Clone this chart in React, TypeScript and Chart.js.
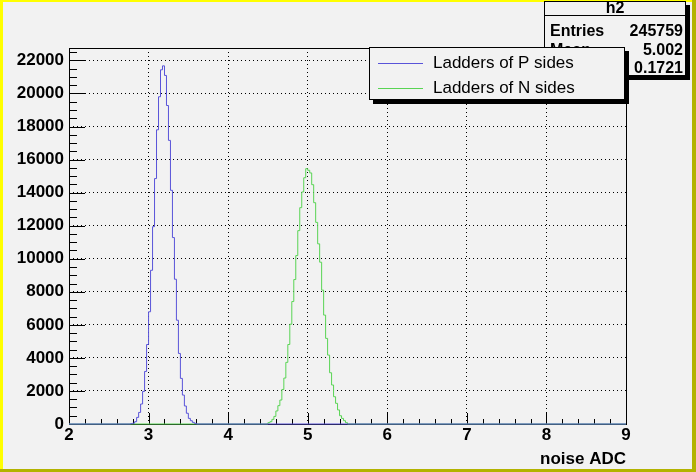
import React, { useEffect, useRef } from "react";
import { Chart, registerables } from "chart.js";
Chart.register(...registerables);

// ---- data ----
const X_MIN = 2;
const X_MAX = 9;
const Y_MAX = 22750;
const BIN_WIDTH = 0.025;

// Ladders of P sides: first bin low edge and bin contents
const pStart = 2.775;
const pSides = [
  20, 50, 140, 400, 700, 1210, 1970, 3180, 4810, 6790, 9300, 11940, 14850,
  17800, 19800, 21430, 21670, 21090, 19270, 17160, 14140, 11280, 8760, 6280,
  4270, 2760, 1750, 1090, 650, 340, 200, 100, 40,
];

// Ladders of N sides
const nStart = 4.5;
const nSides = [
  80, 140, 280, 460, 790, 1110, 1450, 2090, 2780, 3730, 4810, 6040, 7410,
  8740, 10190, 11700, 13090, 14040, 14900, 15450, 15350, 15190, 14480, 13390,
  12200, 10900, 9790, 8100, 6590, 5180, 4170, 3100, 2360, 1650, 1250, 850,
  500, 340, 200, 80,
];

const seriesLabels = ["Ladders of P sides", "Ladders of N sides"];
const xTicks = [2, 3, 4, 5, 6, 7, 8, 9];
const xTickLabels = ["2", "3", "4", "5", "6", "7", "8", "9"];
const yTicks = [0, 2000, 4000, 6000, 8000, 10000, 12000, 14000, 16000, 18000, 20000, 22000];
const yTickLabels = ["0", "2000", "4000", "6000", "8000", "10000", "12000", "14000", "16000", "18000", "20000", "22000"];
const xMinorStep = 0.2;
const yMinorStep = 500;
const xTitle = "noise ADC";
const statsTitle = "h2";
const statsRows = [
  ["Entries", "245759"],
  ["Mean", "5.002"],
  ["RMS", "0.1721"],
];

const BLUE = "#5954d9";
const GREEN = "#59d454";
const BG = "#f2f2f2";
const FONT = "'Liberation Sans', Arial, Helvetica, sans-serif";

function histPoints(start: number, values: number[]) {
  const pts: { x: number; y: number }[] = [{ x: X_MIN, y: 0 }];
  values.forEach((v, i) => pts.push({ x: start + i * BIN_WIDTH, y: v }));
  pts.push({ x: start + values.length * BIN_WIDTH, y: 0 });
  pts.push({ x: X_MAX, y: 0 });
  return pts;
}

const rootPlugin = {
  id: "rootStyle",
  beforeDraw(chart: any) {
    const ctx = chart.ctx;
    const W = chart.width;
    const H = chart.height;
    ctx.save();
    ctx.fillStyle = BG;
    ctx.fillRect(0, 0, W, H);
    // bevel border
    ctx.fillStyle = "#ffff00";
    ctx.fillRect(0, 0, W, 2);
    ctx.fillRect(0, 0, 3, H);
    ctx.fillStyle = "#b3b300";
    ctx.fillRect(W - 4, 0, 4, H);
    ctx.fillRect(0, H - 3, W, 3);
    ctx.restore();
  },
  beforeDatasetsDraw(chart: any) {
    const ctx = chart.ctx;
    const { left, right, top, bottom } = chart.chartArea;
    const xs = chart.scales.x;
    const ys = chart.scales.y;
    ctx.save();
    ctx.strokeStyle = "#000";
    ctx.lineWidth = 1;
    ctx.beginPath();
    // x ticks (inside, upward)
    for (let v = X_MIN, i = 0; v <= X_MAX + 1e-9; i++, v = X_MIN + i * xMinorStep) {
      const px = Math.round(xs.getPixelForValue(v)) + 0.5;
      const major = Math.abs(v - Math.round(v)) < 1e-6;
      const len = major ? 11 : 5;
      ctx.moveTo(px, bottom);
      ctx.lineTo(px, bottom - len);
    }
    // y ticks (inside, rightward)
    for (let v = 0; v <= Y_MAX; v += yMinorStep) {
      const py = Math.round(ys.getPixelForValue(v)) + 0.5;
      const major = v % 2000 === 0;
      const len = major ? 16 : 8;
      ctx.moveTo(left, py);
      ctx.lineTo(left + len, py);
    }
    ctx.stroke();
    // frame
    ctx.strokeRect(Math.round(left) + 0.5, Math.round(top) + 0.5, Math.round(right - left), Math.round(bottom - top));
    ctx.restore();
  },
  afterDraw(chart: any) {
    const ctx = chart.ctx;
    const { right } = chart.chartArea;
    ctx.save();
    // axis title
    ctx.fillStyle = "#000";
    ctx.font = `bold 17px ${FONT}`;
    ctx.textAlign = "right";
    ctx.textBaseline = "middle";
    ctx.fillText(xTitle, right, 459);

    // stats box
    const sx = 544, sy = 1, sw = 142, sh = 75;
    ctx.fillStyle = "#000";
    ctx.fillRect(sx + 4, sy + 4, sw, sh);
    ctx.fillStyle = BG;
    ctx.fillRect(sx, sy, sw, sh);
    ctx.strokeStyle = "#000";
    ctx.lineWidth = 1;
    ctx.strokeRect(sx + 0.5, sy + 0.5, sw - 1, sh - 1);
    ctx.beginPath();
    ctx.moveTo(sx, 15.5);
    ctx.lineTo(sx + sw, 15.5);
    ctx.stroke();
    ctx.fillStyle = "#000";
    ctx.font = `bold 16px ${FONT}`;
    ctx.textAlign = "center";
    ctx.fillText(statsTitle, sx + sw / 2, 8.5);
    const rowY = [32, 50.5, 69];
    statsRows.forEach((r, i) => {
      ctx.textAlign = "left";
      ctx.fillText(r[0], sx + 6, rowY[i]);
      ctx.textAlign = "right";
      ctx.fillText(r[1], sx + sw - 3, rowY[i]);
    });

    // legend box
    const lx = 369, ly = 47, lw = 256, lh = 53;
    ctx.fillStyle = "#000";
    ctx.fillRect(lx + 4, ly + 4, lw, lh);
    ctx.fillStyle = BG;
    ctx.fillRect(lx, ly, lw, lh);
    ctx.strokeRect(lx + 0.5, ly + 0.5, lw - 1, lh - 1);
    const colors = [BLUE, GREEN];
    const ly2 = [63.5, 88.5];
    ctx.font = `17px ${FONT}`;
    ctx.textAlign = "left";
    seriesLabels.forEach((lab, i) => {
      ctx.strokeStyle = colors[i];
      ctx.beginPath();
      ctx.moveTo(378, ly2[i]);
      ctx.lineTo(423, ly2[i]);
      ctx.stroke();
      ctx.fillStyle = "#000";
      ctx.fillText(lab, 433, ly2[i]);
    });
    ctx.restore();
  },
};

export default function App() {
  const ref = useRef<HTMLCanvasElement | null>(null);
  useEffect(() => {
    document.body.style.margin = "0";
    const canvas = ref.current;
    if (!canvas) return;
    const chart = new Chart(canvas, {
      type: "line",
      data: {
        datasets: [
          {
            label: seriesLabels[0],
            data: histPoints(pStart, pSides),
            borderColor: BLUE,
            borderWidth: 1,
            pointRadius: 0,
            fill: false,
            stepped: "before",
            clip: 3,
          } as any,
          {
            label: seriesLabels[1],
            data: histPoints(nStart, nSides),
            borderColor: GREEN,
            borderWidth: 1,
            pointRadius: 0,
            fill: false,
            stepped: "before",
            clip: 3,
          } as any,
        ],
      },
      options: {
        responsive: false,
        animation: false,
        parsing: false,
        layout: { padding: { left: 0, top: 48, right: 70, bottom: 0 } },
        plugins: { legend: { display: false }, tooltip: { enabled: false }, title: { display: false } },
        scales: {
          x: {
            type: "linear",
            min: X_MIN,
            max: X_MAX,
            afterBuildTicks: (s: any) => {
              s.ticks = xTicks.map((v) => ({ value: v }));
            },
            afterFit: (s: any) => {
              s.height = 48;
            },
            ticks: {
              autoSkip: false,
              maxRotation: 0,
              padding: 1,
              color: "#000",
              font: { family: FONT, size: 17, weight: "bold" },
              callback: (v: any, i: number) => xTickLabels[i],
            },
            grid: { color: "#000", lineWidth: 1, drawTicks: false },
            border: { display: false, dash: [1, 3] },
          },
          y: {
            type: "linear",
            min: 0,
            max: Y_MAX,
            afterBuildTicks: (s: any) => {
              s.ticks = yTicks.map((v) => ({ value: v }));
            },
            afterFit: (s: any) => {
              s.width = 69;
            },
            ticks: {
              autoSkip: false,
              padding: 5,
              color: "#000",
              font: { family: FONT, size: 17, weight: "bold" },
              callback: (v: any, i: number) => yTickLabels[i],
            },
            grid: { color: "#000", lineWidth: 1, drawTicks: false },
            border: { display: false, dash: [1, 3] },
          },
        },
      } as any,
      plugins: [rootPlugin],
    });
    return () => chart.destroy();
  }, []);
  return (
    <div style={{ position: "absolute", left: 0, top: 0 }}>
      <canvas ref={ref} width={696} height={472} style={{ display: "block" }} />
    </div>
  );
}
